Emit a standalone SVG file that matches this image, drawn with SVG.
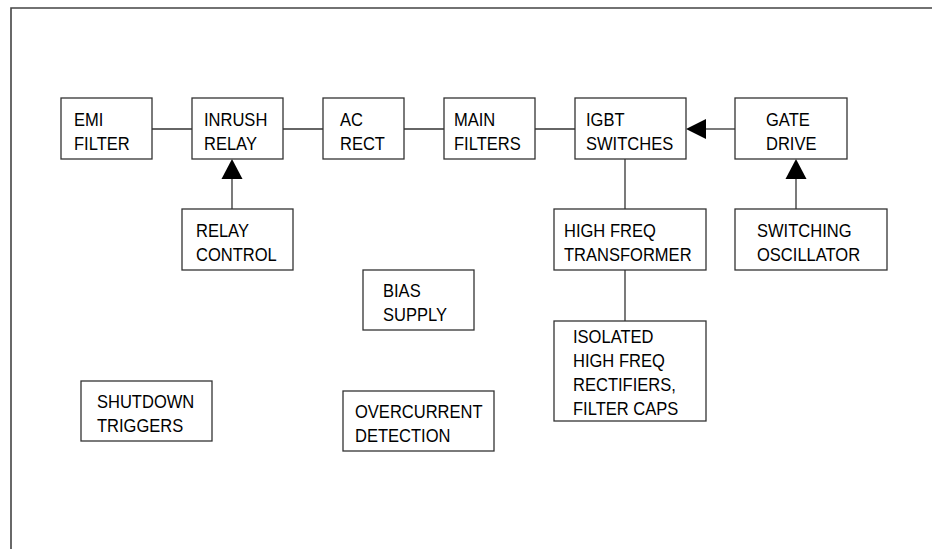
<svg xmlns="http://www.w3.org/2000/svg" width="932" height="549" viewBox="0 0 932 549">
<defs>
<style>
.b{fill:#fff;stroke:#333;stroke-width:1.3}
.t{font-family:"Liberation Sans",Arial,sans-serif;font-size:19px;fill:#000;transform-box:fill-box;transform-origin:0 0;transform:scaleX(0.87)}
.c{stroke:#333;stroke-width:1.3;fill:none}
.h{fill:#000;stroke:none}
</style>
</defs>
<rect width="932" height="549" fill="#fff"/>
<g id="border"><path d="M11 549 V8 H932" fill="none" stroke="#444" stroke-width="1.6"/></g>
<g id="connectors">
<line class="c" x1="152" y1="129" x2="192" y2="129"/>
<line class="c" x1="283" y1="129" x2="323" y2="129"/>
<line class="c" x1="404" y1="129" x2="444" y2="129"/>
<line class="c" x1="535" y1="129" x2="575" y2="129"/>
<line class="c" x1="706" y1="129" x2="735" y2="129"/>
<polygon class="h" points="686,129 706,119 706,139"/>
<line class="c" x1="232" y1="209" x2="232" y2="179"/>
<polygon class="h" points="232,159 221.5,179 242.5,179"/>
<line class="c" x1="796" y1="209" x2="796" y2="179"/>
<polygon class="h" points="796,159 785.5,179 806.5,179"/>
<line class="c" x1="625" y1="159" x2="625" y2="209"/>
<line class="c" x1="625" y1="270" x2="625" y2="321"/>
</g>
<g id="emi"><rect class="b" x="61" y="98" width="91" height="61"/><text class="t" x="74" y="126">EMI</text><text class="t" x="74" y="150">FILTER</text></g>
<g id="inrush"><rect class="b" x="192" y="98" width="91" height="61"/><text class="t" x="204" y="126">INRUSH</text><text class="t" x="204" y="150">RELAY</text></g>
<g id="acrect"><rect class="b" x="323" y="98" width="81" height="61"/><text class="t" x="340" y="126">AC</text><text class="t" x="340" y="150">RECT</text></g>
<g id="mainfilters"><rect class="b" x="444" y="98" width="91" height="61"/><text class="t" x="454" y="126">MAIN</text><text class="t" x="454" y="150">FILTERS</text></g>
<g id="igbt"><rect class="b" x="575" y="98" width="111" height="61"/><text class="t" x="586" y="126">IGBT</text><text class="t" x="586" y="150">SWITCHES</text></g>
<g id="gatedrive"><rect class="b" x="735" y="98" width="112" height="61"/><text class="t" x="766" y="126">GATE</text><text class="t" x="766" y="150">DRIVE</text></g>
<g id="relaycontrol"><rect class="b" x="182" y="209" width="111" height="61"/><text class="t" x="196" y="237">RELAY</text><text class="t" x="196" y="261">CONTROL</text></g>
<g id="hftransformer"><rect class="b" x="554" y="209" width="152" height="61"/><text class="t" x="564" y="237">HIGH FREQ</text><text class="t" x="564" y="261">TRANSFORMER</text></g>
<g id="switchingosc"><rect class="b" x="735" y="209" width="152" height="61"/><text class="t" x="757" y="237">SWITCHING</text><text class="t" x="757" y="261">OSCILLATOR</text></g>
<g id="bias"><rect class="b" x="363" y="270" width="111" height="60"/><text class="t" x="383" y="297">BIAS</text><text class="t" x="383" y="321">SUPPLY</text></g>
<g id="isolated"><rect class="b" x="554" y="321" width="152" height="100"/><text class="t" x="573" y="343">ISOLATED</text><text class="t" x="573" y="367">HIGH FREQ</text><text class="t" x="573" y="391">RECTIFIERS,</text><text class="t" x="573" y="415">FILTER CAPS</text></g>
<g id="shutdown"><rect class="b" x="81" y="381" width="131" height="60"/><text class="t" x="97" y="408">SHUTDOWN</text><text class="t" x="97" y="432">TRIGGERS</text></g>
<g id="overcurrent"><rect class="b" x="343" y="391" width="151" height="60"/><text class="t" x="355" y="418">OVERCURRENT</text><text class="t" x="355" y="442">DETECTION</text></g>
</svg>
